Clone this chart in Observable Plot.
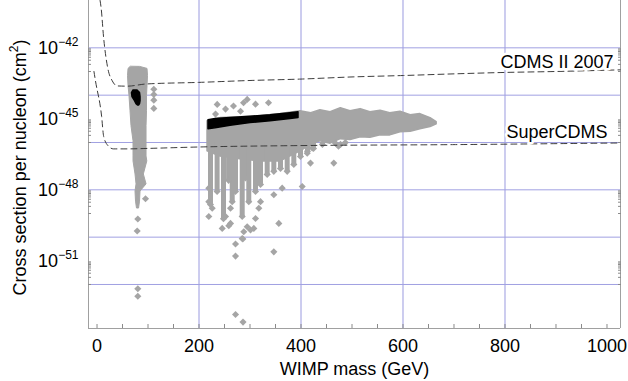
<!DOCTYPE html>
<html><head><meta charset="utf-8">
<script src="https://cdn.jsdelivr.net/npm/d3@7"></script>
<script src="https://cdn.jsdelivr.net/npm/@observablehq/plot@0.6"></script>
<style>body{margin:0;background:#fff}</style>
</head><body><div id="chart"></div>
<script>
// ---- axes (WIMP mass in GeV, cross section as log10 of cm^2) ----
const massDomain = [-16.7, 1026.5];
const logDomain = [-53.86, -40];
const massTickLabels = [0, 200, 400, 600, 800, 1000];
const massMinorTicks = [0, 50, 100, 150, 200, 250, 300, 350, 400, 450, 500, 550, 600, 650, 700, 750, 800, 850, 900, 950, 1000];
const massGrid = [200, 400, 600, 800];
const logTickLabels = [-42, -45, -48, -51];
const logGrid = [-42, -44, -46, -48, -50, -52];
const minorFactors = [1, 2, 3, 4, 5, 6, 7, 8, 9];

// ---- CDMS II 2007 limit curve ----
const cdmsMass = [6, 8, 13, 21, 30, 40, 60, 95, 200, 300, 400, 500, 600, 700, 800, 900, 1026];
const cdmsLog = [-40.0, -40.3, -41.58, -42.85, -43.40, -43.61, -43.62, -43.53, -43.46, -43.38, -43.32, -43.23, -43.17, -43.10, -43.04, -43.00, -42.93];

// ---- SuperCDMS projected curve ----
const superMass = [-6, -3, 9, 13, 21, 32, 60, 100, 200, 400, 700, 1026];
const superLog = [-43.0, -43.4, -44.89, -45.74, -46.12, -46.27, -46.27, -46.25, -46.19, -46.13, -46.09, -46.02];

// ---- grey model points: dense envelope of the main cloud ----
const bandMass = [216.7, 242, 281, 320, 360, 399, 420, 438, 458, 478, 497, 517, 536, 556, 575, 595, 615, 634, 654, 666];
const bandHi = [-45.10, -44.97, -44.93, -44.89, -44.80, -44.68, -44.76, -44.64, -44.72, -44.55, -44.68, -44.59, -44.72, -44.66, -44.76, -44.70, -44.85, -44.80, -44.97, -45.14];
const bandLo = [-46.37, -46.59, -46.71, -46.80, -46.80, -46.37, -46.10, -45.95, -46.05, -45.86, -45.90, -45.78, -45.80, -45.69, -45.70, -45.57, -45.55, -45.44, -45.35, -45.23];

// vertical streaks of grey points below the cloud
const streakMass = [222.5, 235.5, 248, 258, 265.1, 271.6, 284.7, 291, 297.6, 310.8, 320.6, 333.7, 346.7, 359.8, 372.9, 385.9, 399, 412.7, 424.5, 442, 467.6, 487];
const streakBottom = [-48.62, -48.07, -49.22, -47.60, -48.50, -48.07, -49.13, -47.50, -48.50, -48.07, -47.77, -47.35, -47.22, -47.10, -47.22, -46.93, -46.59, -46.37, -46.25, -46.08, -46.03, -46.0];

// low-mass grey column (edges per level)
const colLog = [-42.81, -42.89, -43.19, -43.61, -44.04, -44.68, -45.31, -45.95, -46.59, -46.80, -47.35, -47.77, -48.07, -48.50, -48.79];
const colMassL = [65.7, 61.8, 60.8, 61.8, 63.7, 65.7, 67.6, 71.6, 71.6, 71.6, 75.5, 77.5, 75.5, 76.5, 78.4];
const colMassR = [85.3, 99.0, 100, 99, 98, 98, 97.1, 97.1, 97.1, 98.6, 91.8, 97.1, 85.3, 84.3, 82.4];

// isolated grey points
const dotMass = [95.1, 80, 78.8, 80, 80, 111.4, 111.4, 111.4, 111.4,
  219.2, 219.2, 225.9, 219.2, 245.5, 252.0, 261.8, 261.8, 284.7, 294.5, 307.5, 310.8, 317.3, 320.6, 346.7, 356.5, 363.1, 402.4, 258.4, 271.6, 285.9, 287.8, 301.0, 271.6, 346.7, 271.6, 286.3,
  235.7, 232.4, 267.6, 287.3, 294.5, 310.8, 336.3, 252, 281.4,
  418.6, 464.3, 473.5, 412.2, 422, 477.5];
const dotLog = [-48.38, -49.23, -49.74, -52.18, -52.50, -43.75, -43.97, -44.21, -44.56,
  -47.93, -48.50, -48.78, -49.13, -49.63, -49.13, -49.42, -48.78, -50.06, -49.56, -49.63, -49.21, -48.78, -48.50, -48.21, -49.42, -47.93, -47.86, -49.52, -50.29, -50.08, -49.77, -49.70, -50.80, -50.62, -53.27, -53.59,
  -44.39, -44.80, -44.46, -44.32, -44.18, -44.38, -44.32, -44.59, -44.68,
  -46.87, -46.87, -46.16, -46.45, -46.23, -46.08];

// ---- black model points ----
const blobLog = [-43.80, -43.91, -44.08, -44.25, -44.38, -44.44];
const blobMassL = [71.6, 68.6, 69.6, 74.5, 77.5, 80.4];
const blobMassR = [79.4, 84.3, 85.3, 85.3, 84.3, 82.4];
const blackMass = [218.6, 232.4, 261.8, 301, 340.2, 379.4, 395.1];
const blackHi = [-45.06, -45.01, -44.97, -44.91, -44.85, -44.76, -44.72];
const blackLo = [-45.44, -45.40, -45.29, -45.18, -45.10, -45.01, -44.97];

// ---- curve labels ----
const labelText = ["CDMS II 2007", "SuperCDMS"];
const labelMass = [1012.7, 1001];
const labelLog = [-42.59, -45.57];

// ---- build tables ----
const p = e => Math.pow(10, e);
const cdms = cdmsMass.map((m, i) => ({m, s: p(cdmsLog[i])}));
const sup = superMass.map((m, i) => ({m, s: p(superLog[i])}));
const band = bandMass.map((m, i) => ({m, lo: p(bandLo[i]), hi: p(bandHi[i])}));
const streaks = streakMass.map((m, i) => ({m, b: p(streakBottom[i])}));
const col = colLog.map((e, i) => ({s: p(e), l: colMassL[i], r: colMassR[i]}));
const dots = dotMass.map((m, i) => ({m, s: p(dotLog[i])}));
const blob = blobLog.map((e, i) => ({s: p(e), l: blobMassL[i], r: blobMassR[i]}));
const black = blackMass.map((m, i) => ({m, lo: p(blackLo[i]), hi: p(blackHi[i])}));
const labels = labelText.map((t, i) => ({t, m: labelMass[i], s: p(labelLog[i])}));
const minorY = logTickLabels.flatMap(L => minorFactors.map(k => k * p(L - 1)));

const grey = "#a5a5a5";
const chart = Plot.plot({
  width: 628, height: 381,
  marginTop: 0, marginRight: 8, marginBottom: 53, marginLeft: 88,
  style: {fontFamily: "'Liberation Sans', Arial, Helvetica, sans-serif", background: "#fff", color: "#000"},
  x: {domain: massDomain},
  y: {type: "log", domain: [p(logDomain[0]), p(logDomain[1])]},
  marks: [
    Plot.ruleX(massGrid, {stroke: "#bcbcea", strokeWidth: 1.5}),
    Plot.ruleY(logGrid.map(p), {stroke: "#a0a0e2", strokeWidth: 1}),
    Plot.ruleX(massDomain, {stroke: "#a0a0a0"}),
    Plot.ruleY([p(logDomain[0])], {stroke: "#a0a0a0"}),
    // grey cloud
    Plot.areaY(band, {x: "m", y1: "lo", y2: "hi", fill: grey, stroke: grey, strokeWidth: 1.5}),
    Plot.ruleX(streaks, {x: "m", y1: () => p(-46.0), y2: "b", stroke: grey, strokeWidth: 5}),
    Plot.dot(streaks, {x: "m", y: "b", symbol: "diamond2", r: 3.2, fill: grey}),
    Plot.areaX(col, {y: "s", x1: "l", x2: "r", fill: grey, stroke: grey, strokeWidth: 1}),
    Plot.dot(dots, {x: "m", y: "s", symbol: "diamond2", r: 3.2, fill: grey}),
    // black points
    Plot.areaX(blob, {y: "s", x1: "l", x2: "r", fill: "#000", stroke: "#000", strokeWidth: 1.5, strokeLinejoin: "round"}),
    Plot.areaY(black, {x: "m", y1: "lo", y2: "hi", fill: "#000", stroke: "#000", strokeWidth: 1.5, strokeLinejoin: "round"}),
    // limit curves
    Plot.line(cdms, {x: "m", y: "s", stroke: "#3c3c3c", strokeWidth: 1, strokeDasharray: "6,4", curve: "monotone-x"}),
    Plot.line(sup, {x: "m", y: "s", stroke: "#3c3c3c", strokeWidth: 1, strokeDasharray: "6,4", curve: "monotone-x"}),
    Plot.text(labels, {x: "m", y: "s", text: "t", textAnchor: "end", fontSize: 18, fill: "#000", stroke: "#fff", strokeWidth: 5, paintOrder: "stroke"}),
    // axes
    Plot.axisX({ticks: massMinorTicks, tickSize: 4, dy: -4, tickFormat: () => "", label: null, stroke: "#8a8a8a"}),
    Plot.axisX({ticks: massTickLabels, tickSize: 0, tickPadding: 11, fontSize: 18, label: null, tickFormat: d => String(d)}),
    Plot.axisY({anchor: "left", ticks: minorY, tickSize: 3, dx: 3, tickFormat: () => "", label: null, stroke: "#8a8a8a"}),
    Plot.axisY({anchor: "right", ticks: minorY, tickSize: 3, dx: -3, tickFormat: () => "", label: null, stroke: "#8a8a8a"}),
    Plot.axisY({anchor: "left", ticks: logTickLabels.map(p), tickSize: 0, tickPadding: 10, fontSize: 18, label: null,
      tickFormat: d => `10^{\u2212${-Math.round(Math.log10(d))}}`}),
    Plot.text(["WIMP mass (GeV)"], {frameAnchor: "bottom", dy: 41, text: d => d, textAnchor: "middle", lineAnchor: "middle", fontSize: 18, fill: "#000"}),
    Plot.text(["Cross section per nucleon (cm^{2})"], {frameAnchor: "left", dx: -68, dy: 3, rotate: -90, text: d => d, textAnchor: "middle", lineAnchor: "middle", fontSize: 18, fill: "#000"})
  ]
});
document.getElementById("chart").appendChild(chart);

// render ^{...} as real superscript tspans
const NS = "http://www.w3.org/2000/svg";
chart.querySelectorAll("text").forEach(t => {
  const s = t.textContent;
  const m = s.match(/^(.*)\^\{([^}]*)\}(.*)$/);
  if (!m) return;
  t.textContent = m[1];
  const sp = document.createElementNS(NS, "tspan");
  sp.setAttribute("dy", "-8");
  sp.setAttribute("font-size", "12");
  sp.textContent = m[2];
  t.appendChild(sp);
  if (m[3]) {
    const r = document.createElementNS(NS, "tspan");
    r.setAttribute("dy", "8");
    r.setAttribute("font-size", "18");
    r.textContent = m[3];
    t.appendChild(r);
  }
});
</script>
</body></html>
